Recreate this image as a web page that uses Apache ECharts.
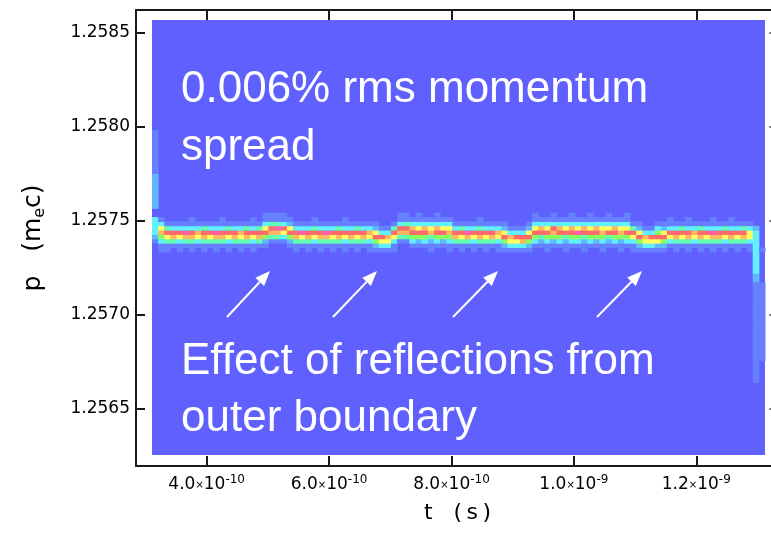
<!DOCTYPE html>
<html lang="en">
<head>
<meta charset="UTF-8">
<title>p vs t</title>
<script src="https://cdn.jsdelivr.net/npm/echarts@6/dist/echarts.min.js"></script>
</head>
<body style="margin:0;background:#fff">
<div id="mybox" style="width:771px;height:534px;"></div>
<script>
// tick values / labels
var xTickValues = [4e-10, 6e-10, 8e-10, 1.0e-9, 1.2e-9];
var xTickMant = ['4.0', '6.0', '8.0', '1.0', '1.2'];
var xTickExp = ['-10', '-10', '-10', '-9', '-9'];
var yTickValues = [1.2565, 1.2570, 1.2575, 1.2580, 1.2585];
var yTickLabels = ['1.2565', '1.2570', '1.2575', '1.2580', '1.2585'];

// histogram cells: t in s, p in m_e c
var tCell0 = 3.106e-10;   // left edge of column 0
var tCellW = 1.0017e-11;
var pRow0 = 1.257335;     // lower edge of band row k=0
var pRowH = 2.3155e-5;

// filled (blue) region of the histogram
var tRange = [3.106e-10, 1.3123e-9];
var pRange = [1.2562535, 1.258569];

// colour of each density level 0..9
var levelColors = ['#6060ff', '#6680ff', '#62b8ff', '#60f0ff', '#60ffb0',
                   '#88ff60', '#ffff60', '#ffb860', '#ff6a6a', '#ff60b0'];

// band: one string per column, rows k=0..9 read bottom to top
var bandCols = [
  '0012333300', '1135763100', '1146841000', '0147831000', '1136831000',
  '0147931000', '1147831100', '0136731000', '1147841000', '0146831000',
  '1147931000', '0147831100', '1136841000', '0147831000', '1146731000',
  '0147841000', '1136831100', '0147841000', '0125863110', '0014784110',
  '0014794110', '0013683110', '0125862100', '1147831000', '0146931000',
  '1147831000', '0136841100', '1147831000', '0147931000', '1146831000',
  '0147841000', '1136831100', '0147831000', '1146841000', '0147831000',
  '1136731000', '1258621000', '1368310000', '1367310000', '1136841000',
  '0014783110', '0014784110', '0135873100', '0125863110', '0135873100',
  '1124763100', '0135873110', '0125863100', '1135763100', '0147831000',
  '1146841000', '0147931000', '1136831000', '0147841100', '1146831000',
  '0147831000', '1136731000', '1258621000', '1367310000', '1368310000',
  '1378310000', '1258621000', '0135863110', '0124873100', '1135863100',
  '0125783110', '0135873100', '1124863100', '0135873110', '0135963100',
  '1124873100', '0135863110', '0125873100', '1135763100', '0124863110',
  '0135873100', '1125763100', '0135863110', '1136841000', '1258621000',
  '1367310000', '1368310000', '1268531000', '1258621000', '0136831100',
  '1147831000', '0146841000', '1147831100', '0136731000', '1147841000',
  '0146831000', '1147931100', '0147831000', '1136841000', '0147831100',
  '1146831000', '0147841000', '1136631000', '3333320000', '1000000000'
];
// column 0 above the band, rows k=10 upward
var leftTrail = '22222222111111111100';
// columns 98 and 99 below the band, rows k=-1 downward
var rightTrail98 = '333332211111111111111111111111';
var rightTrail99 = '000000011111111111111111100000';

var cells = [];
bandCols.forEach(function (col, c) {
    for (var k = 0; k < col.length; k++) {
        var lv = +col[k];
        if (lv > 0) cells.push([tCell0 + c * tCellW, pRow0 + k * pRowH, lv]);
    }
});
for (var i = 0; i < leftTrail.length; i++) {
    if (+leftTrail[i] > 0) cells.push([tCell0, pRow0 + (10 + i) * pRowH, +leftTrail[i]]);
}
for (i = 0; i < rightTrail98.length; i++) {
    if (+rightTrail98[i] > 0) cells.push([tCell0 + 98 * tCellW, pRow0 - (i + 1) * pRowH, +rightTrail98[i]]);
    if (+rightTrail99[i] > 0) cells.push([tCell0 + 99 * tCellW, pRow0 - (i + 1) * pRowH, +rightTrail99[i]]);
}

function xLabel(v) {
    for (var i = 0; i < xTickValues.length; i++) {
        if (Math.abs(v - xTickValues[i]) < 1e-13) {
            return '{m|' + xTickMant[i] + '}{x|\u00d7}{m|10}{e|' + xTickExp[i] + '}';
        }
    }
    return '';
}
function yLabel(v) {
    for (var i = 0; i < yTickValues.length; i++) {
        if (Math.abs(v - yTickValues[i]) < 1e-7) return yTickLabels[i];
    }
    return '';
}

var axisCol = '#1a1a1a';
var tMin = 2.845e-10, tMax = 1.3352e-9;
var pMin = 1.256195, pMax = 1.2586225;

var mychart = echarts.init(document.getElementById('mybox'));

// white arrows pointing at the reflection bumps (pixel layout)
var arrows = [[227, 317, 270, 271], [333, 317, 377, 271], [453, 317, 498, 271], [597, 317, 642, 271]];
var overlay = [
    {type: 'text', left: 181, top: 61, z: 100,
     style: {text: '0.006% rms momentum\nspread', fill: '#fff',
             font: '44px "Liberation Sans"', lineHeight: 58}},
    {type: 'text', left: 181, top: 333, z: 100,
     style: {text: 'Effect of reflections from\nouter boundary', fill: '#fff',
             font: '44px "Liberation Sans"', lineHeight: 57}}
];
arrows.forEach(function (ar) {
    var dx = ar[2] - ar[0], dy = ar[3] - ar[1];
    var len = Math.sqrt(dx * dx + dy * dy), ux = dx / len, uy = dy / len;
    var hl = 15, hw = 6;
    var bx = ar[2] - ux * hl, by = ar[3] - uy * hl;
    overlay.push({type: 'line', z: 100, shape: {x1: ar[0], y1: ar[1], x2: bx, y2: by},
                  style: {stroke: '#fff', lineWidth: 2}});
    overlay.push({type: 'polygon', z: 100,
                  shape: {points: [[ar[2], ar[3]], [bx - uy * hw, by + ux * hw], [bx + uy * hw, by - ux * hw]]},
                  style: {fill: '#fff'}});
});

mychart.setOption({
    animation: false,
    grid: {left: 136, top: 10, width: 643, height: 456, outerBoundsMode: 'none', containLabel: false},
    xAxis: [{
        type: 'value', position: 'bottom', min: tMin, max: tMax,
        axisLine: {show: true, onZero: false, lineStyle: {color: axisCol, width: 2}},
        axisTick: {show: true, inside: true, length: 10, customValues: xTickValues,
                   lineStyle: {color: axisCol, width: 2}},
        axisLabel: {
            customValues: xTickValues, margin: 8, formatter: xLabel,
            rich: {
                m: {fontSize: 17, fontFamily: 'DejaVu Sans', color: '#000', lineHeight: 22},
                x: {fontSize: 10, fontFamily: 'DejaVu Sans', color: '#000', lineHeight: 22},
                e: {fontSize: 12, fontFamily: 'DejaVu Sans', color: '#000', lineHeight: 14, verticalAlign: 'top'}
            }
        },
        splitLine: {show: false},
        name: 't   (\u2009s\u2009)', nameLocation: 'middle', nameGap: 36,
        nameTextStyle: {fontSize: 22, fontFamily: 'DejaVu Sans', color: '#000'}
    }, {
        type: 'value', position: 'top', min: tMin, max: tMax,
        axisLine: {show: true, onZero: false, lineStyle: {color: axisCol, width: 2}},
        axisTick: {show: true, inside: true, length: 10, customValues: xTickValues,
                   lineStyle: {color: axisCol, width: 2}},
        axisLabel: {show: false}, splitLine: {show: false}
    }],
    yAxis: [{
        type: 'value', position: 'left', min: pMin, max: pMax,
        axisLine: {show: true, onZero: false, lineStyle: {color: axisCol, width: 2}},
        axisTick: {show: true, inside: true, length: 9, customValues: yTickValues,
                   lineStyle: {color: axisCol, width: 2}},
        axisLabel: {customValues: yTickValues, margin: 6, formatter: yLabel,
                    fontSize: 17, fontFamily: 'DejaVu Sans', color: '#000'},
        splitLine: {show: false},
        name: '{n|p   (m}{s|e}{n|c)}', nameLocation: 'middle', nameGap: 88,
        nameTextStyle: {
            rich: {
                n: {fontSize: 25, fontFamily: 'DejaVu Sans', color: '#000', lineHeight: 30},
                s: {fontSize: 16, fontFamily: 'DejaVu Sans', color: '#000', lineHeight: 30, verticalAlign: 'bottom'}
            }
        }
    }, {
        type: 'value', position: 'right', min: pMin, max: pMax,
        axisLine: {show: false},
        axisTick: {show: true, inside: true, length: 10, customValues: yTickValues,
                   lineStyle: {color: '#888', width: 2}},
        axisLabel: {show: false}, splitLine: {show: false}
    }],
    series: [{
        name: 'background', type: 'custom', silent: true,
        data: [[tRange[0], pRange[0], tRange[1], pRange[1]]],
        renderItem: function (params, api) {
            var a = api.coord([api.value(0), api.value(3)]);
            var b = api.coord([api.value(2), api.value(1)]);
            return {type: 'rect', shape: {x: a[0], y: a[1], width: b[0] - a[0], height: b[1] - a[1]},
                    style: {fill: levelColors[0]}};
        }
    }, {
        name: 'density', type: 'custom', silent: true,
        data: cells,
        renderItem: function (params, api) {
            var t = api.value(0), p = api.value(1);
            var a = api.coord([t, p + pRowH]);
            var b = api.coord([t + tCellW, p]);
            return {type: 'rect',
                    shape: {x: a[0], y: a[1], width: b[0] - a[0] + 0.5, height: b[1] - a[1] + 0.5},
                    style: {fill: levelColors[api.value(2)]}};
        }
    }],
    graphic: overlay
});
</script>
</body>
</html>
